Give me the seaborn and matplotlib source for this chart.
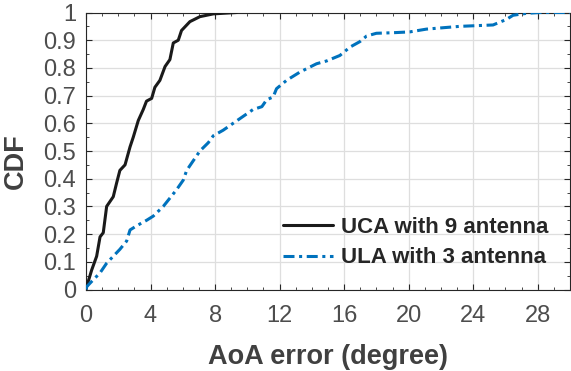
import matplotlib
matplotlib.use("Agg")
import matplotlib.pyplot as plt
import seaborn as sns
import pandas as pd
from matplotlib.ticker import MultipleLocator

# UCA with 9 antenna (CDF curve)
uca_err = [0, 0.04, 0.35, 0.66, 0.87, 1.07, 1.28, 1.69, 1.9, 2.1, 2.42, 2.73, 2.93,
           3.24, 3.55, 3.75, 4.07, 4.27, 4.58, 4.9, 5.2, 5.41, 5.72, 5.92, 6.44,
           7.06, 7.89, 9.33]
uca_cdf = [0, 0.01, 0.07, 0.12, 0.19, 0.205, 0.30, 0.335, 0.385, 0.43, 0.45, 0.515,
           0.55, 0.61, 0.65, 0.68, 0.69, 0.73, 0.755, 0.805, 0.83, 0.89, 0.90, 0.935,
           0.967, 0.985, 0.995, 1.0]

# ULA with 3 antenna
ula_err = [0, 0.04, 0.45, 0.87, 1.28, 1.69, 2.1, 2.52, 2.73, 3.14, 3.76, 4.17, 4.79,
           5.2, 5.61, 6.03, 6.24, 6.65, 7.06, 7.58, 7.89, 8.5, 9.12, 9.74, 10.36,
           10.9, 11.2, 11.6, 11.81, 12.43, 13.26, 14.29, 14.91, 15.74, 16.36, 16.98,
           17.39, 18.0, 19.03, 20.07, 21.1, 22.13, 23.17, 25.23, 26.06, 26.47, 27.3,
           28.13, 30]
ula_cdf = [0, 0.01, 0.035, 0.06, 0.095, 0.12, 0.145, 0.175, 0.215, 0.23, 0.25, 0.265,
           0.30, 0.33, 0.36, 0.395, 0.43, 0.465, 0.50, 0.53, 0.555, 0.575, 0.60, 0.625,
           0.65, 0.66, 0.685, 0.695, 0.725, 0.755, 0.785, 0.815, 0.825, 0.845, 0.875,
           0.895, 0.915, 0.925, 0.927, 0.93, 0.94, 0.945, 0.95, 0.955, 0.975, 0.99,
           0.997, 1.0, 1.0]

series_names = ["UCA with 9 antenna", "ULA with 3 antenna"]
x_ticks = [0, 4, 8, 12, 16, 20, 24, 28]
y_ticks = [0, 0.1, 0.2, 0.3, 0.4, 0.5, 0.6, 0.7, 0.8, 0.9, 1]
y_ticklabels = ["0", "0.1", "0.2", "0.3", "0.4", "0.5", "0.6", "0.7", "0.8", "0.9", "1"]

sns.set_theme(style="white")
plt.rcParams["font.family"] = ["Liberation Sans", "DejaVu Sans"]

fig = plt.figure(figsize=(5.71, 3.71), dpi=100)
ax = fig.add_axes([86 / 571, 1 - 289.5 / 371, (570 - 86) / 571, 277 / 371])

df_uca = pd.DataFrame({"err": uca_err, "cdf": uca_cdf})
df_ula = pd.DataFrame({"err": ula_err, "cdf": ula_cdf})

sns.lineplot(data=df_uca, x="err", y="cdf", ax=ax, color="#1a1a1a", lw=2.2,
             sort=False, label=series_names[0], zorder=3)
sns.lineplot(data=df_ula, x="err", y="cdf", ax=ax, color="#0072BD", lw=2.2,
             sort=False, label=series_names[1], zorder=3, dashes=False)
ax.lines[1].set_dashes([3.6, 1.5, 1.0, 1.5])

ax.set_xlim(0, 30)
ax.set_ylim(0, 1)
ax.set_xticks(x_ticks)
ax.set_yticks(y_ticks)
ax.set_yticklabels(y_ticklabels)
ax.xaxis.set_minor_locator(MultipleLocator(1))
ax.yaxis.set_minor_locator(MultipleLocator(0.05))

ax.grid(True, which="major", color="#dedede", lw=0.9)
ax.set_axisbelow(True)
for s in ax.spines.values():
    s.set_visible(True)
    s.set_color("#262626")
    s.set_linewidth(0.8)

ax.tick_params(which="both", direction="in", top=True, right=True,
               bottom=True, left=True, colors="#262626", labelcolor="#4d4d4d",
               labelsize=17)
ax.tick_params(which="major", length=4, width=0.8)
ax.tick_params(which="minor", length=2, width=0.6)
ax.tick_params(axis="x", which="major", pad=11)
ax.tick_params(axis="y", which="major", pad=7)

ax.set_xlabel("AoA error (degree)", fontsize=19.5, fontweight="bold", color="#404040")
ax.set_ylabel("CDF", fontsize=19.5, fontweight="bold", color="#404040")
ax.xaxis.set_label_coords(0.5, -0.195)
ax.yaxis.set_label_coords(-0.118, 0.465)

leg = ax.legend(loc="upper left", bbox_to_anchor=(0.407, 0.262), frameon=False,
                borderaxespad=0, borderpad=0, handlelength=2.25, handletextpad=0.35,
                labelspacing=0.43, prop={"weight": "bold", "size": 16})
for t in leg.get_texts():
    t.set_color("#262626")

fig.savefig("out.png", dpi=100)
